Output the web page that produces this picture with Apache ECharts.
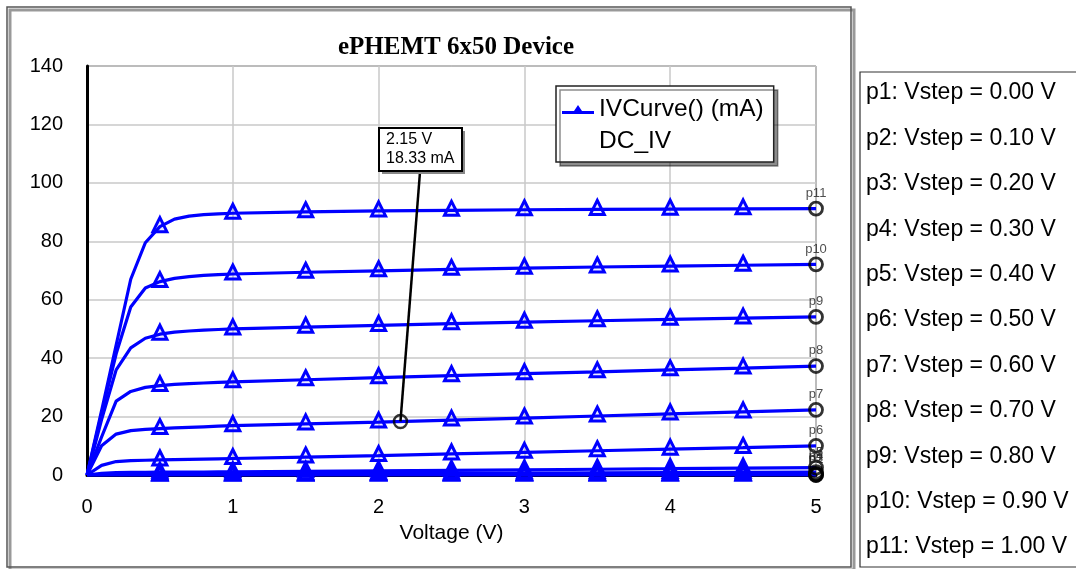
<!DOCTYPE html>
<html>
<head>
<meta charset="utf-8">
<script src="https://cdn.jsdelivr.net/npm/echarts@6/dist/echarts.min.js"></script>
<style>html,body{margin:0;padding:0;background:#fff}#c{width:1076px;height:569px}</style>
</head>
<body>
<div id="c"></div>
<script>
// ---- data ----
const voltages = [0, 0.1, 0.2, 0.3, 0.4, 0.5, 0.6, 0.7, 0.8, 0.9, 1.0, 1.5, 2.0, 2.5, 3.0, 3.5, 4.0, 4.5, 5.0];
const p1  = [0, 0, 0, 0, 0, 0, 0, 0, 0, 0, 0, 0, 0, 0, 0, 0, 0, 0, 0];
const p2  = [0, 0, 0, 0, 0, 0, 0, 0, 0, 0, 0.01, 0.01, 0.02, 0.02, 0.03, 0.03, 0.04, 0.04, 0.05];
const p3  = [0, 0.03, 0.05, 0.06, 0.07, 0.08, 0.08, 0.09, 0.09, 0.1, 0.1, 0.12, 0.15, 0.17, 0.2, 0.22, 0.25, 0.27, 0.3];
const p4  = [0, 0.15, 0.25, 0.3, 0.32, 0.34, 0.35, 0.36, 0.37, 0.38, 0.39, 0.45, 0.52, 0.6, 0.68, 0.76, 0.84, 0.92, 1.0];
const p5  = [0, 0.6, 0.8, 0.88, 0.92, 0.95, 0.98, 1.0, 1.02, 1.05, 1.08, 1.25, 1.42, 1.6, 1.78, 1.96, 2.15, 2.35, 2.55];
const p6  = [0, 3.3, 4.6, 4.9, 5.05, 5.15, 5.25, 5.35, 5.45, 5.55, 5.65, 6.15, 6.65, 7.2, 7.75, 8.3, 8.85, 9.4, 10.0];
const p7  = [0, 10.0, 14.0, 15.2, 15.6, 15.9, 16.1, 16.3, 16.5, 16.7, 16.9, 17.5, 18.1, 18.8, 19.5, 20.2, 20.9, 21.6, 22.3];
const p8  = [0, 13.0, 25.3, 28.6, 30.0, 30.6, 31.0, 31.3, 31.5, 31.7, 31.9, 32.6, 33.3, 34.0, 34.7, 35.3, 36.0, 36.6, 37.3];
const p9  = [0, 19.0, 36.0, 43.5, 46.8, 48.2, 48.9, 49.3, 49.6, 49.8, 50.0, 50.6, 51.2, 51.8, 52.3, 52.8, 53.3, 53.7, 54.1];
const p10 = [0, 21.0, 41.5, 57.5, 64.0, 66.2, 67.3, 67.9, 68.3, 68.6, 68.8, 69.4, 69.9, 70.4, 70.8, 71.2, 71.5, 71.8, 72.1];
const p11 = [0, 22.0, 44.5, 67.0, 79.5, 85.0, 87.6, 88.6, 89.1, 89.4, 89.6, 90.1, 90.4, 90.6, 90.8, 90.9, 91.0, 91.1, 91.2];
const curves = [p1, p2, p3, p4, p5, p6, p7, p8, p9, p10, p11];
const curveNames = ['p1', 'p2', 'p3', 'p4', 'p5', 'p6', 'p7', 'p8', 'p9', 'p10', 'p11'];
const vsteps = [0.00, 0.10, 0.20, 0.30, 0.40, 0.50, 0.60, 0.70, 0.80, 0.90, 1.00];
const markerV = 2.15;
const markerI = 18.33;
const seriesName = 'IVCurve() (mA)';
const subName = 'DC_IV';
const titleText = 'ePHEMT 6x50 Device';
const xName = 'Voltage (V)';

const BLUE = '#0000ff';
const FONT = '"Liberation Sans", Arial, sans-serif';

const chart = echarts.init(document.getElementById('c'), null, {renderer: 'canvas'});

function isTriangleX(x) {
  const k = Math.round(x * 2);
  return Math.abs(x * 2 - k) < 1e-6 && x > 0 && x < 5;
}

const series = [];
curves.forEach((arr, i) => {
  series.push({
    name: seriesName,
    type: 'line',
    data: voltages.map((v, j) => [v, arr[j]]),
    showAllSymbol: true,
    symbol: (val) => isTriangleX(val[0]) ? 'triangle' : 'none',
    symbolSize: 14,
    symbolOffset: [0, -2],
    lineStyle: {color: BLUE, width: 3.2},
    itemStyle: {color: 'rgba(0,0,255,0.08)', borderColor: BLUE, borderWidth: 3},
    emphasis: {disabled: true},
    z: 2
  });
});
// end markers with labels
series.push({
  name: 'ends',
  type: 'scatter',
  data: curves.map((arr, i) => ({value: [voltages[voltages.length - 1], arr[arr.length - 1]], label: {formatter: curveNames[i]}})),
  symbol: 'circle',
  symbolSize: 13,
  itemStyle: {color: 'rgba(0,0,0,0)', borderColor: '#000', borderWidth: 2.8},
  label: {show: true, position: 'top', distance: 1, fontSize: 13, color: '#222', fontFamily: FONT},
  emphasis: {disabled: true},
  z: 4
});
// annotation marker
series.push({
  name: 'marker',
  type: 'scatter',
  data: [[markerV, markerI]],
  symbol: 'circle',
  symbolSize: 13,
  itemStyle: {color: 'rgba(0,0,0,0)', borderColor: '#000', borderWidth: 2.5},
  emphasis: {disabled: true},
  z: 5
});

const option = {
  animation: false,
  backgroundColor: '#fff',
  title: {
    text: titleText,
    left: 451, top: 30, textAlign: 'center',
    textStyle: {fontFamily: '"Liberation Serif", "Times New Roman", serif', fontWeight: 'bold', fontSize: 25, color: '#000'}
  },
  grid: {left: 87, right: 260, top: 66, bottom: 94, show: true, borderColor: '#333', borderWidth: 1, containLabel: false, outerBoundsMode: 'none'},
  legend: {
    data: [{name: seriesName, icon: 'path://M0,9 L32,9 L32,12 L0,12 Z M10,12 L16,3 L22,12 Z'}],
    left: 556, top: 86,
    itemWidth: 32, itemHeight: 14, itemGap: 5,
    padding: [11, 10, 40, 6],
    backgroundColor: '#fff',
    borderColor: '#222', borderWidth: 1.5,
    shadowColor: 'rgba(0,0,0,0.45)', shadowOffsetX: 4, shadowOffsetY: 4, shadowBlur: 0,
    selectedMode: false,
    itemStyle: {color: BLUE, borderWidth: 0},
    textStyle: {fontSize: 24.5, color: '#000', fontFamily: FONT, padding: [0, 0, 0, 0]}
  },
  xAxis: {
    type: 'value', min: 0, max: 5, interval: 1,
    name: xName, nameLocation: 'middle', nameGap: 48,
    nameTextStyle: {fontSize: 21, color: '#000', fontFamily: FONT},
    axisLine: {show: true, lineStyle: {color: '#000', width: 3}},
    axisTick: {show: false},
    axisLabel: {fontSize: 20, color: '#000', margin: 22, fontFamily: FONT},
    splitLine: {show: true, lineStyle: {color: '#c8c8c8', width: 1.5}}
  },
  yAxis: {
    type: 'value', min: 0, max: 140, interval: 20,
    axisLine: {show: true, lineStyle: {color: '#000', width: 3}},
    axisTick: {show: false},
    axisLabel: {fontSize: 20, color: '#000', margin: 24, fontFamily: FONT},
    splitLine: {show: true, lineStyle: {color: '#c8c8c8', width: 1.5}}
  },
  series: series
};
chart.setOption(option);

// graphics: frames, legend extra line, annotation, right-hand panel
const pt = chart.convertToPixel({gridIndex: 0}, [markerV, markerI]);
const graphics = [
  {type: 'rect', shape: {x: 10, y: 10, width: 844, height: 560}, style: {fill: 'none', stroke: '#999', lineWidth: 3}, z: -10, silent: true},
  {type: 'rect', shape: {x: 7, y: 7, width: 844, height: 560}, style: {fill: 'none', stroke: '#555', lineWidth: 1.5}, z: -9, silent: true},
  {type: 'rect', shape: {x: 860, y: 72, width: 240, height: 495}, style: {fill: '#fff', stroke: '#333', lineWidth: 1.2}, z: -9, silent: true},
  {type: 'text', x: 599, y: 141, style: {text: subName, font: '24.5px ' + FONT, fill: '#000', verticalAlign: 'middle'}, z: 100, silent: true},
  {type: 'line', shape: {x1: 420, y1: 172, x2: pt[0], y2: pt[1]}, style: {stroke: '#000', lineWidth: 2.5}, z: 90, silent: true},
  {type: 'rect', shape: {x: 382, y: 131, width: 83, height: 43}, style: {fill: '#888', stroke: null}, z: 91, silent: true},
  {type: 'rect', shape: {x: 379, y: 128, width: 83, height: 43}, style: {fill: '#fff', stroke: '#000', lineWidth: 2}, z: 92, silent: true},
  {type: 'text', x: 386, y: 140, style: {text: markerV.toFixed(2) + ' V', font: '16px ' + FONT, fill: '#000', verticalAlign: 'middle'}, z: 93, silent: true},
  {type: 'text', x: 386, y: 159, style: {text: markerI.toFixed(2) + ' mA', font: '16px ' + FONT, fill: '#000', verticalAlign: 'middle'}, z: 93, silent: true}
];
vsteps.forEach((v, i) => {
  graphics.push({
    type: 'text', x: 866, y: 93 + i * 45.4,
    style: {text: curveNames[i] + ': Vstep = ' + v.toFixed(2) + ' V', font: '23px ' + FONT, fill: '#000', verticalAlign: 'middle'},
    z: 10, silent: true
  });
});
chart.setOption({graphic: graphics});
</script>
</body>
</html>
